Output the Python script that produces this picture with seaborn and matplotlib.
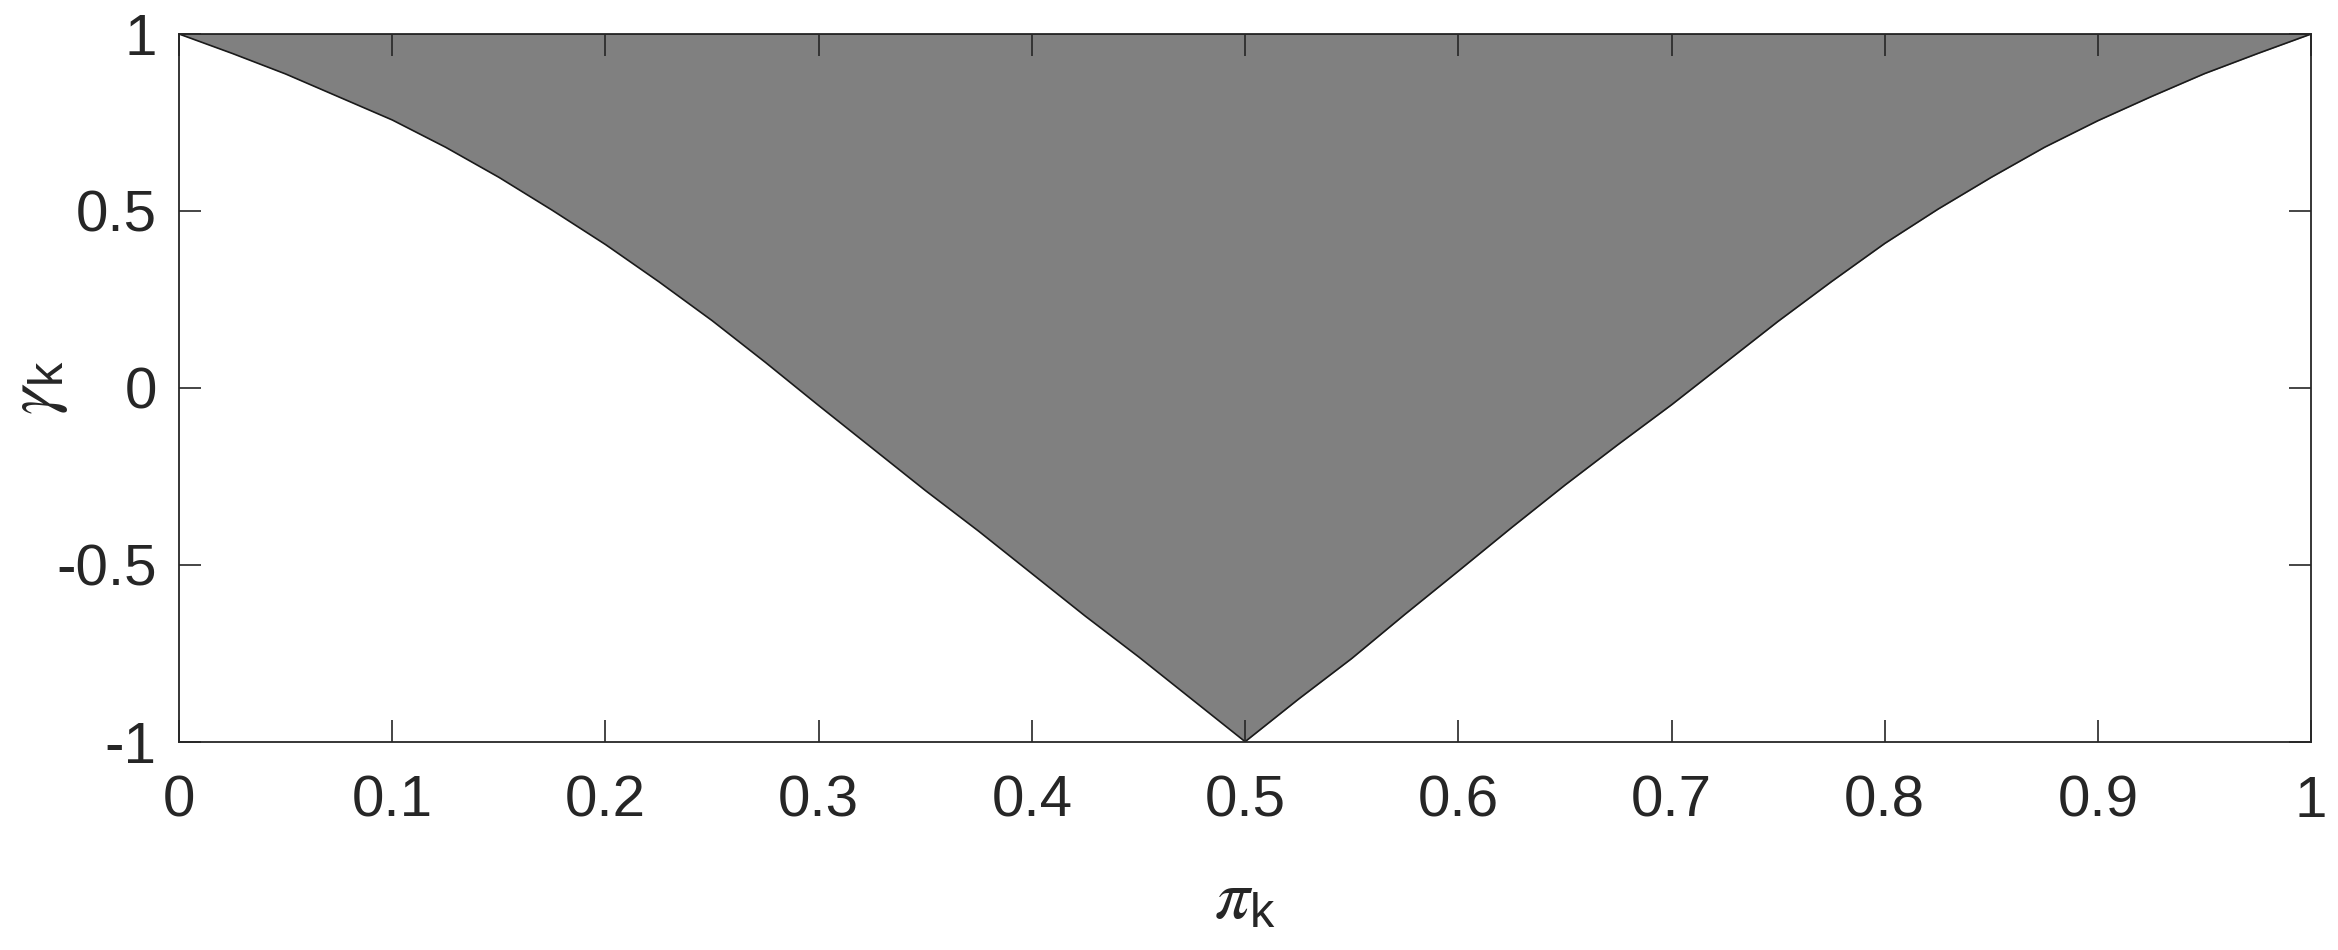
import matplotlib
matplotlib.use("Agg")
import matplotlib.pyplot as plt
import seaborn as sns
import pandas as pd

# Data (lower boundary of the shaded region; upper boundary is 1)
pi_k = [0.000, 0.025, 0.050, 0.075, 0.100, 0.125, 0.150, 0.175, 0.200, 0.225,
        0.250, 0.275, 0.300, 0.325, 0.350, 0.375, 0.400, 0.425, 0.450, 0.475,
        0.500, 0.525, 0.550, 0.575, 0.600, 0.625, 0.650, 0.675, 0.700, 0.725,
        0.750, 0.775, 0.800, 0.825, 0.850, 0.875, 0.900, 0.925, 0.950, 0.975, 1.000]
gamma_low = [1.000, 0.945, 0.887, 0.822, 0.757, 0.680, 0.595, 0.502, 0.405, 0.300,
             0.190, 0.072, -0.050, -0.170, -0.290, -0.405, -0.525, -0.645, -0.760, -0.880,
             -1.000, -0.880, -0.765, -0.640, -0.518, -0.395, -0.275, -0.160, -0.048, 0.070,
             0.188, 0.300, 0.408, 0.505, 0.595, 0.680, 0.755, 0.823, 0.888, 0.945, 1.000]
gamma_high = [1.0] * len(pi_k)

xticks = [0, 0.1, 0.2, 0.3, 0.4, 0.5, 0.6, 0.7, 0.8, 0.9, 1]
xticklabels = ["0", "0.1", "0.2", "0.3", "0.4", "0.5", "0.6", "0.7", "0.8", "0.9", "1"]
yticks = [-1, -0.5, 0, 0.5, 1]
yticklabels = ["-1", "-0.5", "0", "0.5", "1"]

df = pd.DataFrame({"pi": pi_k, "low": gamma_low, "high": gamma_high})

sns.set_theme(style="white")
plt.rcParams["font.family"] = ["Liberation Sans", "DejaVu Sans"]
plt.rcParams["mathtext.fontset"] = "custom"
plt.rcParams["mathtext.rm"] = "Liberation Sans"
plt.rcParams["mathtext.it"] = "STIXGeneral:italic"

fig = plt.figure(figsize=(23.38, 9.5), dpi=100)
ax = fig.add_axes([0.0766, 0.2193, 0.9119, 0.7449])

ax.fill_between(df["pi"], df["low"], df["high"], color="#808080", linewidth=0, zorder=1)
sns.lineplot(data=df, x="pi", y="low", ax=ax, color="#1a1a1a", linewidth=1.2, zorder=2)
sns.lineplot(data=df, x="pi", y="high", ax=ax, color="#1a1a1a", linewidth=1.2, zorder=2)

ax.set_xlim(0, 1)
ax.set_ylim(-1, 1)
ax.set_xticks(xticks)
ax.set_xticklabels(xticklabels)
ax.set_yticks(yticks)
ax.set_yticklabels(yticklabels)

txtcol = "#262626"
ax.tick_params(axis="both", which="both", direction="in", length=16, width=1.2,
               colors="#262626", labelsize=42, labelcolor=txtcol,
               top=True, right=True, bottom=True, left=True)
ax.tick_params(axis="x", pad=24)
ax.tick_params(axis="y", pad=16)
for s in ax.spines.values():
    s.set_color("#262626")
    s.set_linewidth(1.3)
    s.set_visible(True)
ax.set_axisbelow(False)

ax.set_xlabel(r"$\pi_{\mathrm{k}}$", fontsize=50, color=txtcol)
ax.set_ylabel(r"$\gamma_{\mathrm{k}}$", fontsize=50, color=txtcol)
ax.xaxis.label.set_va("center")
ax.yaxis.label.set_va("center")
ax.xaxis.set_label_coords(0.5, -0.225)
ax.yaxis.set_label_coords(-0.066, 0.5)

fig.savefig("out.png", dpi=100)
